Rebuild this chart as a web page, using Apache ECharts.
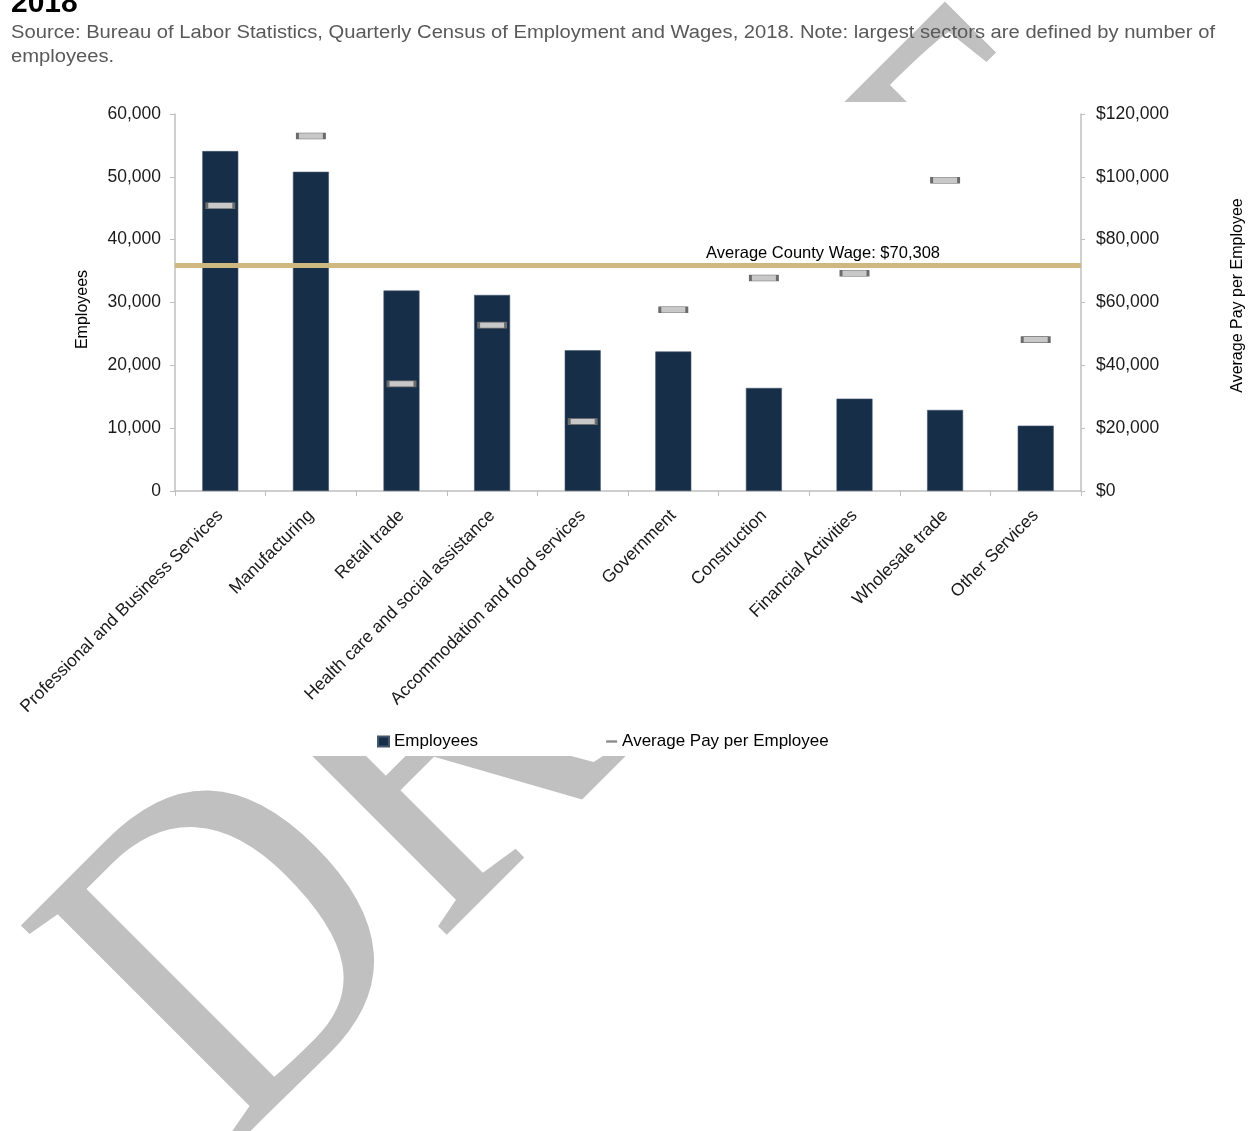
<!DOCTYPE html>
<html>
<head>
<meta charset="utf-8">
<script src="https://cdn.jsdelivr.net/npm/echarts@6/dist/echarts.min.js"></script>
<style>
html,body{margin:0;padding:0;background:#fff;}
#chart{width:1254px;height:1131px;}
</style>
</head>
<body>
<div id="chart"></div>
<script>
const categories = ['Professional and Business Services','Manufacturing','Retail trade','Health care and social assistance','Accommodation and food services','Government','Construction','Financial Activities','Wholesale trade','Other Services'];
const employees = [54100, 50800, 31900, 31200, 22400, 22200, 16400, 14700, 12900, 10400];
const avgPay = [90800, 113000, 34100, 52800, 22100, 57700, 67800, 69300, 98900, 48200];
const leftTicks = [0, 10000, 20000, 30000, 40000, 50000, 60000];
const rightTicks = [0, 20000, 40000, 60000, 80000, 100000, 120000];
const countyWageLabel = 'Average County Wage: $70,308';
const countyWageLevel = 71700;
const titleText = '2018';
const subtitleLines = ['Source: Bureau of Labor Statistics, Quarterly Census of Employment and Wages, 2018. Note: largest sectors are defined by number of', 'employees.'];
const watermarkText = 'DRAFT';

const FONT = '"Liberation Sans", Arial, sans-serif';
const SUB_FONT = '18px "Liberation Sans", Arial, sans-serif';

// stretch the subtitle horizontally to the width it occupies in the reference
const mctx = document.createElement('canvas').getContext('2d');
mctx.font = SUB_FONT;
const subScale = 1204 / mctx.measureText(subtitleLines[0]).width;

const chart = echarts.init(document.getElementById('chart'), null, {renderer:'canvas'});
const option = {
  backgroundColor: '#fff',
  animation: false,
  textStyle: {fontFamily: FONT},
  graphic: [
    {type:'text', z:-10, x:143, y:1064, rotation: Math.PI/4, scaleX: 0.86, scaleY: 1,
     style:{text:watermarkText, font:'470px "Liberation Serif", "Times New Roman", serif', fill:'#c0c0c0', align:'left', verticalAlign:'middle'}},
    {type:'rect', z:-5, shape:{x:0, y:102, width:1254, height:654}, style:{fill:'#fff'}},
    {type:'text', z:10, x:11, y:4, style:{text:titleText, font:'bold 30px ' + FONT, fill:'#000', verticalAlign:'middle'}},
    {type:'text', z:10, x:11, y:33, scaleX: subScale, style:{text:subtitleLines[0], font:SUB_FONT, fill:'#595959', verticalAlign:'middle'}},
    {type:'text', z:10, x:11, y:57, scaleX: subScale, style:{text:subtitleLines[1], font:SUB_FONT, fill:'#595959', verticalAlign:'middle'}}
  ],
  legend: {
    left: 372, top: 728, itemGap: 128, itemWidth: 11, itemHeight: 10,
    textStyle: {fontSize: 17, color: '#000', fontFamily: FONT},
    data: [
      {name:'Employees', icon:'rect', itemStyle:{color:'#172e48'}},
      {name:'Average Pay per Employee', icon:'path://M0,0 L12,0 L12,2.6 L0,2.6 Z', itemStyle:{color:'#8c8c8c', borderWidth:0}}
    ]
  },
  grid: {left:175, right:173, top:114, bottom:640, containLabel:false, outerBoundsMode:'none'},
  xAxis: {
    type:'category', data: categories,
    axisLine:{lineStyle:{color:'#bfbfbf', width:1.5}},
    axisTick:{show:true, length:5, lineStyle:{color:'#bfbfbf'}},
    axisLabel:{rotate:45, fontSize:17.5, color:'#1a1a1a', margin:22, interval:0, fontFamily:FONT}
  },
  yAxis: [
    {type:'value', min:0, max:60000, interval:10000, position:'left',
     name:'Employees', nameLocation:'middle', nameRotate:90, nameGap:84,
     nameTextStyle:{fontSize:16, color:'#000', fontFamily:FONT, padding:[0,14,0,0]},
     axisLine:{show:true, lineStyle:{color:'#bfbfbf', width:1.5}},
     axisTick:{show:true, length:5, lineStyle:{color:'#bfbfbf'}},
     splitLine:{show:false},
     axisLabel:{fontSize:17.5, color:'#1a1a1a', margin:14, fontFamily:FONT,
       formatter: v => leftTicks.includes(v) ? v.toLocaleString('en-US') : ''}},
    {type:'value', min:0, max:120000, interval:20000, position:'right',
     name:'Average Pay per Employee', nameLocation:'middle', nameRotate:90, nameGap:149,
     nameTextStyle:{fontSize:16, color:'#000', fontFamily:FONT, padding:[0,0,0,14]},
     axisLine:{show:true, lineStyle:{color:'#bfbfbf', width:1.5}},
     axisTick:{show:true, length:4, lineStyle:{color:'#bfbfbf'}},
     splitLine:{show:false},
     axisLabel:{fontSize:17.5, color:'#1a1a1a', margin:15, fontFamily:FONT,
       formatter: v => rightTicks.includes(v) ? '$' + v.toLocaleString('en-US') : ''}}
  ],
  series: [
    {name:'Employees', type:'bar', data: employees, barWidth:36, yAxisIndex:0,
     itemStyle:{color:'#172e48', borderColor:'#44566b', borderWidth:0.6}},
    {name:'Average Pay per Employee', type:'scatter', data: avgPay, yAxisIndex:1, z:5,
     symbol:'rect', symbolSize:[27,6],
     itemStyle:{color:'#c8c8c8', borderColor:'#6b6b6b', borderWidth:1.4, opacity:1},
     markLine:{silent:true, symbol:'none', z:4,
       lineStyle:{color:'#cfb880', width:5, type:'solid'},
       label:{show:true, position:'insideEndTop', formatter: countyWageLabel, color:'#000', fontSize:16.5, fontFamily:FONT, padding:[0,137,0,0], distance:4},
       data:[{yAxis: countyWageLevel}]}}
  ]
};
chart.setOption(option);
</script>
</body>
</html>
